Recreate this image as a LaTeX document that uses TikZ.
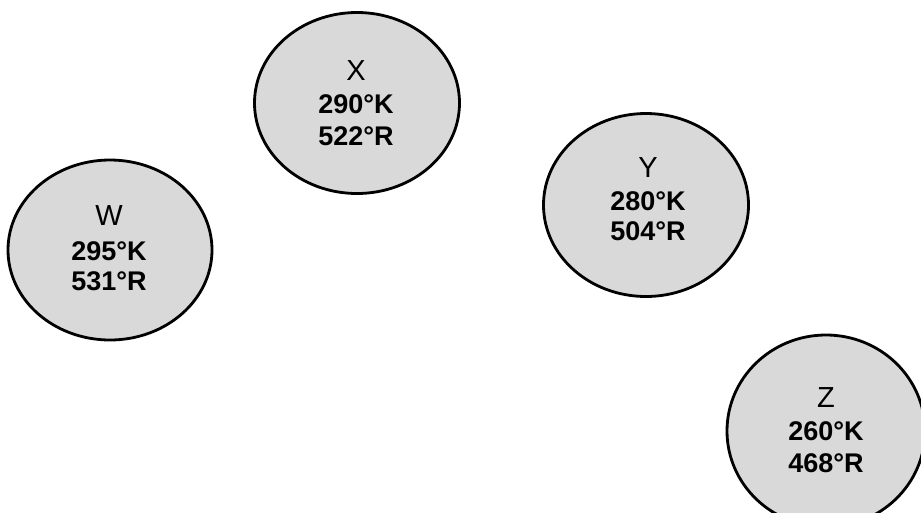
\documentclass[tikz,border=0pt]{standalone}
\usepackage{fontspec}
\setmainfont{Liberation Sans}
\usetikzlibrary{shapes.geometric}
\definecolor{bubgray}{HTML}{D9D9D9}
\begin{document}
\begin{tikzpicture}[x=1pt,y=-1pt,
  bub/.style={ellipse, draw=black, line width=2.8pt, fill=bubgray, inner sep=0pt},
  letterlbl/.style={anchor=base, inner sep=0pt, font=\fontsize{29}{32}\selectfont},
  numlbl/.style={anchor=base, inner sep=0pt, font=\fontsize{27}{30}\selectfont\bfseries}]
\useasboundingbox (0,0) rectangle (921,512);
% W
\node[bub, minimum width=204pt, minimum height=180pt] (W) at (110,250) {};
\node[letterlbl] (W1) at (109,225) {W};
\node[numlbl] (W2) at (109,260) {295°K};
\node[numlbl] (W3) at (109,290) {531°R};
% X
\node[bub, minimum width=205pt, minimum height=181pt] (X) at (357,103) {};
\node[letterlbl] (X1) at (356,80) {X};
\node[numlbl] (X2) at (356,113) {290°K};
\node[numlbl] (X3) at (356,145) {522°R};
% Y
\node[bub, minimum width=205pt, minimum height=183pt] (Y) at (646,205) {};
\node[letterlbl] (Y1) at (648,177) {Y};
\node[numlbl] (Y2) at (648,210) {280°K};
\node[numlbl] (Y3) at (648,240) {504°R};
% Z
\node[bub, minimum width=198pt, minimum height=192pt] (Z) at (826,431) {};
\node[letterlbl] (Z1) at (826,407) {Z};
\node[numlbl] (Z2) at (826,440) {260°K};
\node[numlbl] (Z3) at (826,472) {468°R};
\end{tikzpicture}
\end{document}
